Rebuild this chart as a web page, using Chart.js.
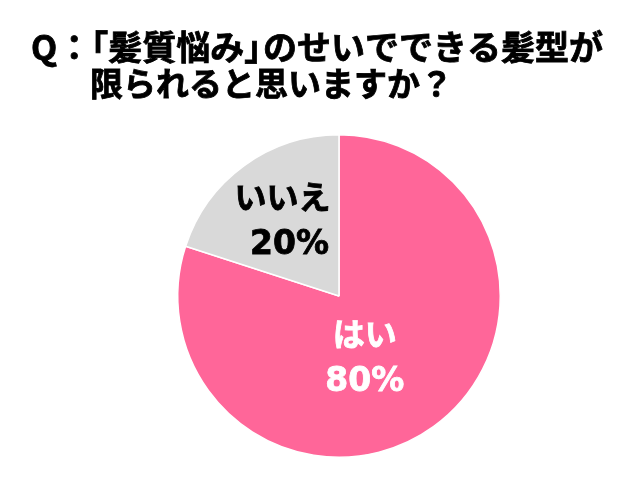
<!DOCTYPE html>
<html>
<head>
<meta charset="utf-8">
<script src="https://cdn.jsdelivr.net/npm/chart.js@4"></script>
<style>
  html, body { margin: 0; padding: 0; background: #fff; }
  #wrap { width: 637px; height: 489px; }
</style>
</head>
<body>
<div id="wrap"><canvas id="pieChart" width="637" height="489"></canvas></div>
<script>
"use strict";
const titleLines = ['Q：「髪質悩み」のせいでできる髪型が', '限られると思いますか？'];
const categories = ['はい', 'いいえ'];
const shares = [80, 20];
const sliceColors = ['#FF6699', '#D9D9D9'];
const labelColors = ['#FFFFFF', '#000000'];

const JP_FONT = '"Noto Sans CJK JP", "Noto Sans", sans-serif';
const NUM_FONT = '"DejaVu Sans", sans-serif';

// fill + thin stroke so the glyphs come out as heavy as the original
function heavyText(ctx, text, x, y) {
    ctx.fillText(text, x, y);
    ctx.strokeText(text, x, y);
}

// title drawn by hand: second line indented, closing bracket kept tight
const titlePlugin = {
    id: 'leftTitle',
    afterDraw(chart) {
        const ctx = chart.ctx;
        ctx.save();
        ctx.fillStyle = '#000';
        ctx.strokeStyle = '#000';
        ctx.lineWidth = 0.8;
        ctx.textBaseline = 'middle';
        ctx.textAlign = 'left';
        const size = 34;
        ctx.font = 'bold ' + size + 'px ' + JP_FONT;
        const cut = titleLines[0].indexOf('」') + 1;
        const head = titleLines[0].slice(0, cut);
        const tail = titleLines[0].slice(cut);
        heavyText(ctx, head, 31, 47);
        heavyText(ctx, tail, 31 + ctx.measureText(head).width - size * 0.45, 47);
        ctx.font = 'bold 33px ' + JP_FONT;
        heavyText(ctx, titleLines[1], 90, 83);
        ctx.restore();
    }
};

// two-line labels inside each slice: offsets in units of the radius
const labelOffsets = [[0.16, 0.38], [-0.35, -0.47]];
const numberShift = [0, 7];
const sliceLabelPlugin = {
    id: 'sliceLabels',
    afterDatasetsDraw(chart) {
        const ctx = chart.ctx;
        const arcs = chart.getDatasetMeta(0).data;
        ctx.save();
        ctx.textAlign = 'center';
        ctx.textBaseline = 'middle';
        ctx.lineWidth = 0.8;
        arcs.forEach((arc, i) => {
            const r = arc.outerRadius;
            const cx = arc.x + labelOffsets[i][0] * r;
            const cy = arc.y + labelOffsets[i][1] * r;
            ctx.fillStyle = labelColors[i];
            ctx.strokeStyle = labelColors[i];
            ctx.font = 'bold 32px ' + JP_FONT;
            heavyText(ctx, categories[i], cx, cy - 23);
            ctx.font = 'bold 33px ' + NUM_FONT;
            heavyText(ctx, shares[i] + '%', cx + numberShift[i], cy + 25);
        });
        ctx.restore();
    }
};

const ctx = document.getElementById('pieChart').getContext('2d');
new Chart(ctx, {
    type: 'pie',
    data: {
        labels: categories,
        datasets: [{
            data: shares,
            backgroundColor: sliceColors,
            borderColor: '#FFFFFF',
            borderWidth: 1.5
        }]
    },
    options: {
        responsive: false,
        animation: false,
        devicePixelRatio: 1,
        layout: { padding: { top: 134, bottom: 31, left: 177, right: 136 } },
        plugins: {
            legend: { display: false },
            title: { display: false },
            tooltip: { enabled: false }
        }
    },
    plugins: [titlePlugin, sliceLabelPlugin]
});
</script>
</body>
</html>
